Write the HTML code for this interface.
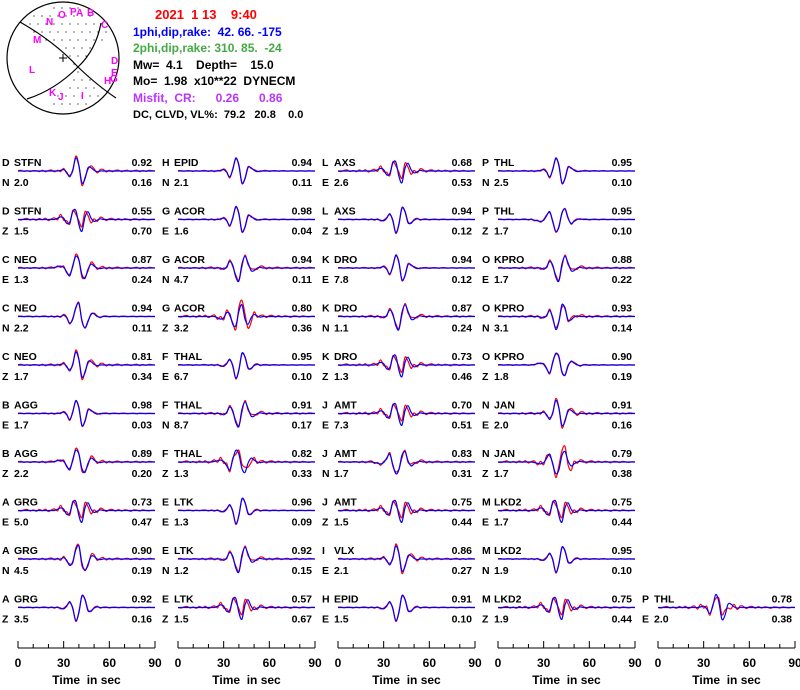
<!DOCTYPE html>
<html><head><meta charset="utf-8">
<style>
body{margin:0;background:#fff;}
svg text{font-family:"Liberation Sans",sans-serif;font-weight:bold;white-space:pre;}
</style></head>
<body>
<svg id="chart" width="800" height="685" viewBox="0 0 800 685" xmlns="http://www.w3.org/2000/svg" xml:space="preserve">
<g id="beachball">
  <circle cx="63" cy="58" r="56" fill="none" stroke="#000" stroke-width="1.2"/>
  <path d="M20,22 Q55,42 78,67 Q98,86 116,98" fill="none" stroke="#000" stroke-width="1.2"/>
  <path d="M101,23 Q96,50 78,67 Q55,90 27,99" fill="none" stroke="#000" stroke-width="1.2"/>
  <line x1="59" y1="58" x2="67" y2="58" stroke="#000"/><line x1="63" y1="54" x2="63" y2="62" stroke="#000"/>
  <g id="bbdots" fill="#000"></g>
  <g font-size="10" fill="#ff00ff">
    <text x="46" y="25">N</text><text x="58" y="18">O</text><text x="70" y="15">P</text><text x="76" y="16">A</text><text x="87" y="16">B</text>
    <text x="101" y="28">C</text><text x="33" y="43">M</text><text x="29" y="73">L</text><text x="111" y="64">D</text><text x="111" y="76">E</text>
    <text x="104" y="84">H</text><text x="110" y="82">G</text><text x="49" y="96">K</text><text x="58" y="100">J</text><text x="81" y="99">I</text>
  </g>
</g>
<g font-size="12">
  <text x="155" y="19" fill="#ff0000" font-size="13">2021  1 13    9:40</text>
  <text x="133" y="36" fill="#0000ff">1phi,dip,rake:  42. 66. -175</text>
  <text x="133" y="52" fill="#44aa44">2phi,dip,rake: 310. 85.  -24</text>
  <text x="133" y="69" fill="#000">Mw=  4.1    Depth=    15.0</text>
  <text x="133" y="85" fill="#000">Mo=  1.98  x10**22  DYNECM</text>
  <text x="133" y="102" fill="#bb33ff">Misfit,  CR:      0.26      0.86</text>
  <text x="133" y="118" fill="#000" font-size="11">DC, CLVD, VL%:  79.2   20.8    0.0</text>
</g>
<g id="traces"></g>
<g id="axes"></g>
</svg>
<script>
// station metadata
const letters=["D","D","C","C","C","B","B","A","A","A","H","G","G","G","F","F","F","E","E","E","L","L","K","K","K","J","J","J","I","H","P","P","O","O","O","N","N","M","M","M","P"];
const stations=["STFN","STFN","NEO","NEO","NEO","AGG","AGG","GRG","GRG","GRG","EPID","ACOR","ACOR","ACOR","THAL","THAL","THAL","LTK","LTK","LTK","AXS","AXS","DRO","DRO","DRO","AMT","AMT","AMT","VLX","EPID","THL","THL","KPRO","KPRO","KPRO","JAN","JAN","LKD2","LKD2","LKD2","THL"];
const comps=["N","Z","E","N","Z","E","Z","E","N","Z","N","E","N","Z","E","N","Z","E","N","Z","E","Z","E","N","Z","E","N","Z","E","E","N","Z","E","N","Z","E","Z","E","N","Z","E"];
const ccValues=["0.92","0.55","0.87","0.94","0.81","0.98","0.89","0.73","0.90","0.92","0.94","0.98","0.94","0.80","0.95","0.91","0.82","0.96","0.92","0.57","0.68","0.94","0.94","0.87","0.73","0.70","0.83","0.75","0.86","0.91","0.95","0.95","0.88","0.93","0.90","0.91","0.79","0.75","0.95","0.75","0.78"];
const distValues=["2.0","1.5","1.3","2.2","1.7","1.7","2.2","5.0","4.5","3.5","2.1","1.6","4.7","3.2","6.7","8.7","1.3","1.3","1.2","1.5","2.6","1.9","7.8","1.1","1.3","7.3","1.7","1.5","2.1","1.5","2.5","1.7","1.7","3.1","1.8","2.0","1.7","1.7","1.9","1.9","2.0"];
const misfitValues=["0.16","0.70","0.24","0.11","0.34","0.03","0.20","0.47","0.19","0.16","0.11","0.04","0.11","0.36","0.10","0.17","0.33","0.09","0.15","0.67","0.53","0.12","0.12","0.24","0.46","0.51","0.31","0.44","0.27","0.10","0.10","0.10","0.22","0.14","0.19","0.16","0.38","0.44","0.10","0.44","0.38"];
const panelCol=[0,0,0,0,0,0,0,0,0,0,1,1,1,1,1,1,1,1,1,1,2,2,2,2,2,2,2,2,2,2,3,3,3,3,3,3,3,3,3,3,4];
const panelRow=[0,1,2,3,4,5,6,7,8,9,0,1,2,3,4,5,6,7,8,9,0,1,2,3,4,5,6,7,8,9,0,1,2,3,4,5,6,7,8,9,9];
// waveform sample values at 2 s spacing, 0..90 s (46 samples)
const synShapes=[
 [0,0,0,0,0,0,0,0,0,0,0,0,0,0,0.05,0.1,-0.1,-0.45,0.1,1.0,0.4,-0.9,-0.6,0.25,0.25,0.05,-0.05,0,0,0,0,0,0,0,0,0,0,0,0,0,0,0,0,0,0,0],
 [0,0,0,0,0,0,0,0,0,0,0,0,0.05,0.1,0.15,0.05,-0.3,-0.6,0.2,0.9,0.6,-0.5,-0.8,-0.1,0.3,0.15,0,-0.05,0,0,0,0,0,0,0,0,0,0,0,0,0,0,0,0,0,0],
 [0,0,0,0,0,0,0,0,0,0,0,0,0,0,0,-0.1,0.1,0.5,0.2,-0.7,-1.0,0.3,0.9,0.4,-0.2,-0.2,0,0.05,0,0,0,0,0,0,0,0,0,0,0,0,0,0,0,0,0,0],
 [0,0,0,0,0,0,0,0,0,0,0,0,0,0.1,0.2,0.1,-0.3,-0.2,0.6,0.7,-0.4,-0.9,0.2,0.6,0.1,-0.15,-0.05,0.05,0,0,0,0,0,0,0,0,0,0,0,0,0,0,0,0,0,0]
];
const noiseShapes=[
 [0.03,0.05,-0.03,0.02,-0.04,0.03,0.02,-0.05,0.06,-0.06,0.04,0.08,-0.06,0.06,-0.1,0.1,-0.08,0.12,-0.1,0.15,0.05,-0.2,0.1,-0.12,0.15,0.12,-0.1,0.1,0.12,-0.08,0.06,-0.06,0.05,0.06,-0.05,0.03,0.05,-0.04,0.02,0.06,-0.05,0.04,-0.03,0.05,0.02,0],
 [0,-0.04,0.05,0.08,-0.04,0.04,-0.06,0.08,-0.02,0.1,-0.08,0.05,0.12,-0.12,0.2,-0.15,0.2,-0.15,0.1,-0.3,0.3,0.35,0.4,-0.3,-0.35,0.2,-0.1,0.12,0.1,-0.08,0.06,0.08,-0.05,0.07,-0.04,0.05,0.02,-0.06,0.05,0.03,-0.04,0.05,0,-0.03,0.02,0],
 [0.02,0.03,-0.02,0.03,0.02,-0.03,0.03,-0.02,0.03,0.04,-0.04,0.04,-0.05,0.05,-0.06,0.06,0.05,-0.08,0.08,-0.08,0.08,-0.06,0.05,0.08,-0.06,0.06,0.05,-0.05,0.03,0.04,-0.03,0.02,0.03,-0.02,0.02,0.03,-0.02,0.01,0.02,-0.02,0.02,0.01,-0.01,0.02,0,0]
];
const traceShape=[0,3,1,2,0,0,1,3,2,0,0,0,2,3,0,2,1,0,2,3,3,0,0,2,3,3,1,3,0,0,0,1,2,0,1,0,1,3,0,3,0];
const tracePolarity=[1,1,1,-1,1,1,1,1,-1,-1,1,1,1,-1,-1,1,1,-1,1,1,1,-1,1,1,1,1,-1,1,1,-1,1,-1,1,-1,1,1,-1,1,-1,1,1];
const traceNoise=[0,1,0,2,0,2,0,1,0,2,2,2,0,1,2,0,1,2,0,1,1,2,2,0,1,1,0,1,0,2,2,2,0,0,2,0,1,1,2,1,1];

const NS="http://www.w3.org/2000/svg";
const tg=document.getElementById('traces');
const ag=document.getElementById('axes');
const colX=c=>18+160*c;
const rowY=r=>171+48.5*r;
const xScale=(c,t)=>colX(c)+t/90*137;
const yScale=(r,v)=>rowY(r)-v*13;
function mk(tag,attrs,parent){const e=document.createElementNS(NS,tag);for(const k in attrs)e.setAttribute(k,attrs[k]);parent.appendChild(e);return e;}
function smoothPath(pts){let d="M"+pts[0][0].toFixed(1)+","+pts[0][1].toFixed(1);
 for(let i=0;i<pts.length-1;i++){const p0=pts[Math.max(0,i-1)],p1=pts[i],p2=pts[i+1],p3=pts[Math.min(pts.length-1,i+2)];
  d+=" C"+(p1[0]+(p2[0]-p0[0])/6).toFixed(1)+","+(p1[1]+(p2[1]-p0[1])/6).toFixed(1)+" "+(p2[0]-(p3[0]-p1[0])/6).toFixed(1)+","+(p2[1]-(p3[1]-p1[1])/6).toFixed(1)+" "+p2[0].toFixed(1)+","+p2[1].toFixed(1);}
 return d;}
function txt(x,y,s,parent,anchor){const e=mk('text',{x:x,y:y,'font-size':'10.5',fill:'#000'},parent);if(anchor)e.setAttribute('text-anchor',anchor);e.textContent=s;return e;}

for(let i=0;i<letters.length;i++){
 const c=panelCol[i],r=panelRow[i],x0=colX(c)-16,y=rowY(r);
 const g=mk('g',{},tg);
 
 
 txt(x0,y-5,letters[i],g);
 txt(x0+12,y-5,stations[i],g);
 txt(x0,y+15,comps[i],g);
 txt(x0+12,y+15,distValues[i],g);
 txt(x0+150,y-5,ccValues[i],g,'end');
 txt(x0+150,y+15,misfitValues[i],g,'end');
 const syn=synShapes[traceShape[i]],nz=noiseShapes[traceNoise[i]],pol=tracePolarity[i];
 const obsPts=[],synPts=[];
 for(let k=0;k<syn.length;k++){const t=k*2;
  synPts.push([xScale(c,t),yScale(r,pol*syn[k])]);
  obsPts.push([xScale(c,t),yScale(r,pol*syn[k]+nz[k])]);}
 const po=mk('path',{d:smoothPath(obsPts),fill:'none',stroke:'#ff0000','stroke-width':'1.2'},g);
 
 
 const ps=mk('path',{d:smoothPath(synPts),fill:'none',stroke:'#0000ff','stroke-width':'1.2'},g);
 
 
}
const tickLabels=["0","30","60","90"];
for(let c=0;c<5;c++){
 const g=mk('g',{},ag);
 
 
 mk('line',{x1:xScale(c,0),x2:xScale(c,90),y1:648,y2:648,stroke:'#000','stroke-width':'1'},g);
 for(let t=0;t<=90;t+=10){mk('line',{x1:xScale(c,t),x2:xScale(c,t),y1:648,y2:(t%30==0?641:644),stroke:'#000','stroke-width':'1'},g);}
 tickLabels.forEach(l=>{const e=mk('text',{x:xScale(c,+l),y:667,'font-size':'12','text-anchor':'middle',fill:'#000'},g);e.textContent=l;});
 const tl=mk('text',{x:xScale(c,45),y:684,'font-size':'12','text-anchor':'middle',fill:'#000'},g);tl.textContent="Time  in sec";
}
// beachball dots
const bd=document.getElementById('bbdots');
for(let y=8;y<112;y+=8)for(let x=10;x<118;x+=8){
 const dx=x-63,dy=y-58;if(dx*dx+dy*dy>52*52)continue;
 const l1=(y-22)-(x-20)*(81/98);const l2=(x-78)+(y-67)*0.9;
 const top=l1<0&&l2<0, bot=l1>0&&l2>0;
 if(top||bot)mk('circle',{cx:x+(y%16?4:0),cy:y,r:0.6},bd);
}
</script>
</body></html>
